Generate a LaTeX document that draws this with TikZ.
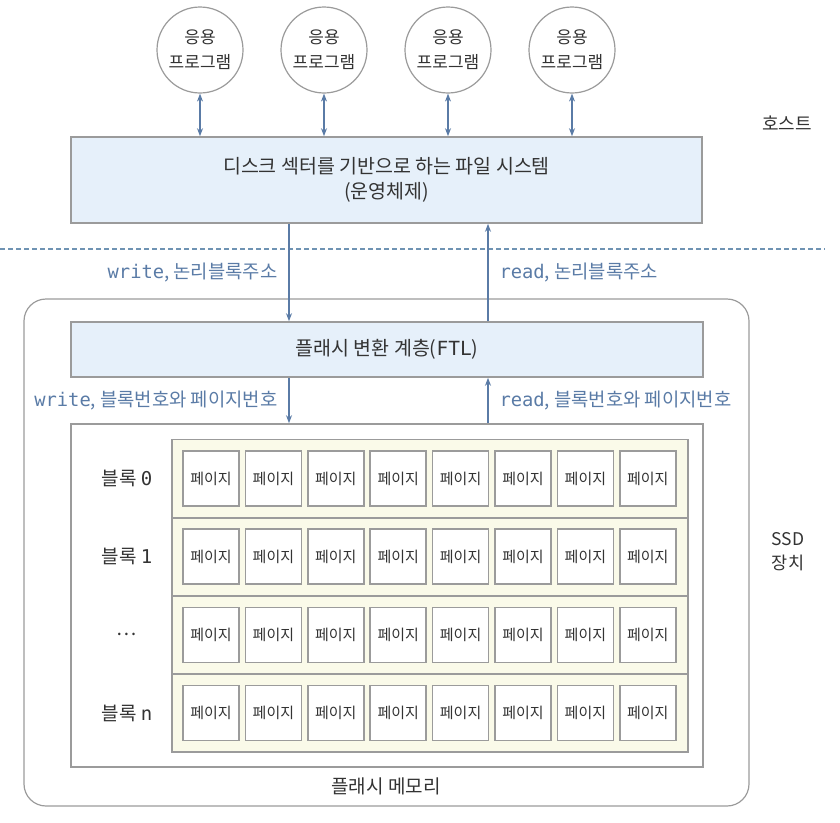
\documentclass[tikz,border=0pt]{standalone}
\usepackage{fontspec}
\setmainfont{Noto Sans CJK KR}
\newfontfamily\codefont{DejaVu Sans Mono}
\usetikzlibrary{arrows.meta}

\definecolor{flowblue}{HTML}{5A7BA6}
\definecolor{dashblue}{HTML}{6F93B3}
\definecolor{layerblue}{HTML}{E6F0FA}
\definecolor{edgegray}{HTML}{9B9B9B}
\definecolor{inkgray}{HTML}{333333}
\definecolor{blockcream}{HTML}{FAFAE9}

\tikzset{
    layer/.style={draw=edgegray, line width=1.6pt, fill=layerblue, text=inkgray, align=center, font=\fontsize{19.5}{25}\selectfont},
    app/.style={circle, draw=edgegray, line width=1.2pt, fill=white, minimum size=86pt, inner sep=0pt, align=center, text=inkgray, font=\fontsize{17}{25}\selectfont},
    blockrow/.style={draw=edgegray, line width=1.6pt, fill=blockcream, minimum width=516pt, minimum height=78pt},
    pagebox/.style={draw=edgegray, line width=1.6pt, fill=white, minimum width=56pt, minimum height=55pt, inner sep=0pt, text=inkgray, font=\fontsize{15}{15}\selectfont},
    flow/.style={draw=flowblue, line width=1.2pt},
    flowtext/.style={text=flowblue, font=\fontsize{18.8}{20}\selectfont},
    plaintext/.style={text=inkgray, align=center, font=\fontsize{19}{25}\selectfont}
}

\begin{document}
\begin{tikzpicture}[x={(1pt,0pt)}, y={(0pt,-1pt)}]

    \useasboundingbox (0, 0) rectangle (840, 822);

    \path node (app1) [app] at (200, 50) {응용\\프로그램};
    \path node (app2) [app] at (324, 50) {응용\\프로그램};
    \path node (app3) [app] at (448, 50) {응용\\프로그램};
    \path node (app4) [app] at (572, 50) {응용\\프로그램};

    \path node (os) [layer, minimum width=631pt, minimum height=86pt] at (386.5, 180) {디스크 섹터를 기반으로 하는 파일 시스템\\(운영체제)};
    \path node (host) [plaintext, font=\fontsize{18}{25}\selectfont] at (787, 123) {호스트};

    \draw[dashblue, line width=1.2pt, dash pattern=on 5pt off 3pt] (0, 249) -- (825, 249);

    \path node (ssd) [draw=edgegray, line width=1.2pt, rounded corners=22pt, minimum width=725pt, minimum height=507pt] at (386.5, 552.5) {};
    \path node (ssdname) [plaintext, font=\fontsize{17.5}{24}\selectfont] at (788, 552) {SSD\\장치};

    \path node (ftl) [layer, minimum width=632pt, minimum height=55pt] at (387, 349.5) {플래시 변환 계층({\codefont FTL})};
    \path node (flash) [draw=edgegray, line width=1.6pt, fill=white, minimum width=632pt, minimum height=343pt] at (387, 595.5) {};
    \path node (flashname) [plaintext] at (386, 786) {플래시 메모리};

    \foreach \r/\lbl in {0/블록 {\codefont 0}, 1/블록 {\codefont 1}, 2/…, 3/블록 {\codefont n}} {
        \path node (blk\r) [blockrow] at (430, 478.5 + 78.2*\r) {};
        \path node (blklabel\r) [plaintext] at (127, 478.5 + 78.2*\r) {\lbl};
        \foreach \c in {0,...,7}
            \path node (pg\r\c) [pagebox] at (211 + 62.4*\c, 478.5 + 78.2*\r) {페이지};
    }

    \coordinate (wx) at (289, 0);
    \coordinate (rx) at (488, 0);

    \foreach \i in {1,...,4}
        \draw[flow, arrows={Stealth[length=8pt, width=6pt]-Stealth[length=8pt, width=6pt]}] (app\i) -- (app\i |- os.north);

    \draw[flow, arrows={-Stealth[length=8pt, width=6pt]}] (os.south -| wx) -- (ftl.north -| wx);
    \draw[flow, arrows={-Stealth[length=8pt, width=6pt]}] (ftl.north -| rx) -- (os.south -| rx);
    \draw[flow, arrows={-Stealth[length=8pt, width=6pt]}] (ftl.south -| wx) -- (flash.north -| wx);
    \draw[flow, arrows={-Stealth[length=8pt, width=6pt]}] (flash.north -| rx) -- (ftl.south -| rx);

    \path node (wlba) [flowtext, anchor=east] at (281, 273) {{\codefont write}, 논리블록주소};
    \path node (rlba) [flowtext, anchor=west] at (496, 273) {{\codefont read}, 논리블록주소};
    \path node (wppn) [flowtext, anchor=east] at (281, 401) {{\codefont write}, 블록번호와 페이지번호};
    \path node (rppn) [flowtext, anchor=west] at (496, 401) {{\codefont read}, 블록번호와 페이지번호};

\end{tikzpicture}
\end{document}
